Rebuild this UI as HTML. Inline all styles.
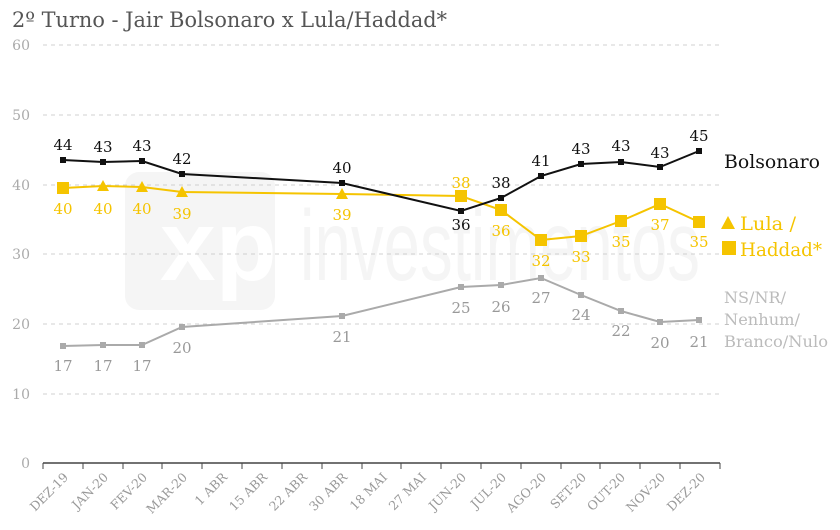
<!DOCTYPE html>
<html><head><meta charset="utf-8"><style>
html,body{margin:0;padding:0;background:#fff;}
svg{display:block;font-family:"DejaVu Serif","Liberation Serif",serif;}
</style></head><body>
<svg width="840" height="530" viewBox="0 0 840 530" xmlns="http://www.w3.org/2000/svg">
<rect width="840" height="530" fill="#fff"/>
<!-- watermark -->
<rect x="125" y="172" width="150" height="138" rx="14" fill="#f5f5f5"/>
<text x="160" y="280" font-family="Liberation Sans,sans-serif" font-size="100" font-weight="bold" fill="#fff">xp</text>
<text x="300" y="280" font-family="Liberation Sans,sans-serif" font-size="100" fill="#f5f5f5" textLength="400" lengthAdjust="spacingAndGlyphs">investimentos</text>
<text x="12" y="27" font-size="21" fill="#555" textLength="435" lengthAdjust="spacingAndGlyphs">2º Turno - Jair Bolsonaro x Lula/Haddad*</text>
<g stroke="#d0d0d0" stroke-dasharray="4,4" stroke-width="1">
<line x1="43" x2="720" y1="45" y2="45"/><line x1="43" x2="720" y1="115" y2="115"/>
<line x1="43" x2="720" y1="185" y2="185"/><line x1="43" x2="720" y1="254" y2="254"/>
<line x1="43" x2="720" y1="324" y2="324"/><line x1="43" x2="720" y1="394" y2="394"/>
</g>
<g font-size="14" fill="#aaa" text-anchor="end">
<text x="30" y="50">60</text><text x="30" y="120">50</text><text x="30" y="190">40</text>
<text x="30" y="259">30</text><text x="30" y="329">20</text><text x="30" y="399">10</text><text x="30" y="468">0</text>
</g>
<line x1="43" x2="720" y1="463" y2="463" stroke="#444" stroke-width="1.5"/>
<g stroke="#444" stroke-width="1">
<line x1="43" x2="43" y1="463" y2="469"/><line x1="83" x2="83" y1="463" y2="469"/><line x1="123" x2="123" y1="463" y2="469"/><line x1="162" x2="162" y1="463" y2="469"/><line x1="202" x2="202" y1="463" y2="469"/><line x1="242" x2="242" y1="463" y2="469"/><line x1="282" x2="282" y1="463" y2="469"/><line x1="322" x2="322" y1="463" y2="469"/><line x1="362" x2="362" y1="463" y2="469"/><line x1="401" x2="401" y1="463" y2="469"/><line x1="441" x2="441" y1="463" y2="469"/><line x1="481" x2="481" y1="463" y2="469"/><line x1="521" x2="521" y1="463" y2="469"/><line x1="561" x2="561" y1="463" y2="469"/><line x1="600" x2="600" y1="463" y2="469"/><line x1="640" x2="640" y1="463" y2="469"/><line x1="680" x2="680" y1="463" y2="469"/><line x1="720" x2="720" y1="463" y2="469"/>
</g>
<g font-size="12.5" fill="#999" text-anchor="end">
<text transform="translate(69,478) rotate(-45)">DEZ-19</text>
<text transform="translate(109,478) rotate(-45)">JAN-20</text>
<text transform="translate(148,478) rotate(-45)">FEV-20</text>
<text transform="translate(188,478) rotate(-45)">MAR-20</text>
<text transform="translate(228,478) rotate(-45)">1 ABR</text>
<text transform="translate(268,478) rotate(-45)">15 ABR</text>
<text transform="translate(308,478) rotate(-45)">22 ABR</text>
<text transform="translate(348,478) rotate(-45)">30 ABR</text>
<text transform="translate(388,478) rotate(-45)">18 MAI</text>
<text transform="translate(427,478) rotate(-45)">27 MAI</text>
<text transform="translate(467,478) rotate(-45)">JUN-20</text>
<text transform="translate(507,478) rotate(-45)">JUL-20</text>
<text transform="translate(547,478) rotate(-45)">AGO-20</text>
<text transform="translate(587,478) rotate(-45)">SET-20</text>
<text transform="translate(626,478) rotate(-45)">OUT-20</text>
<text transform="translate(666,478) rotate(-45)">NOV-20</text>
<text transform="translate(706,478) rotate(-45)">DEZ-20</text>
</g>
<!-- NS -->
<polyline fill="none" stroke="#aaa" stroke-width="2" points="63,346 103,345 142,345 182,327 342,316 461,287 501,285 541,278 581,295 621,311 660,322 699,320"/>
<g fill="#aaa"><rect x="60" y="343" width="6" height="6"/><rect x="100" y="342" width="6" height="6"/><rect x="139" y="342" width="6" height="6"/><rect x="179" y="324" width="6" height="6"/><rect x="339" y="313" width="6" height="6"/><rect x="458" y="284" width="6" height="6"/><rect x="498" y="282" width="6" height="6"/><rect x="538" y="275" width="6" height="6"/><rect x="578" y="292" width="6" height="6"/><rect x="618" y="308" width="6" height="6"/><rect x="657" y="319" width="6" height="6"/><rect x="696" y="317" width="6" height="6"/></g>
<g font-size="15" fill="#999" text-anchor="middle">
<text x="63" y="371">17</text><text x="103" y="371">17</text><text x="142" y="371">17</text><text x="182" y="353">20</text><text x="342" y="342">21</text><text x="461" y="313">25</text><text x="501" y="312">26</text><text x="541" y="303">27</text><text x="581" y="320">24</text><text x="621" y="336">22</text><text x="660" y="348">20</text><text x="699" y="347">21</text>
</g>
<!-- Lula -->
<polyline fill="none" stroke="#f5c400" stroke-width="2" points="63,188 103,186 142,187 182,192 342,194 461,196 501,210 541,240 581,236 621,221 660,204 699,222"/>
<g fill="#f5c400">
<rect x="57" y="182" width="12" height="12"/>
<polygon points="103,180 109,191 97,191"/><polygon points="142,181 148,192 136,192"/><polygon points="182,186 188,197 176,197"/><polygon points="342,188 348,199 336,199"/>
<rect x="455" y="190" width="12" height="12"/><rect x="495" y="204" width="12" height="12"/><rect x="535" y="234" width="12" height="12"/><rect x="575" y="230" width="12" height="12"/><rect x="615" y="215" width="12" height="12"/><rect x="654" y="198" width="12" height="12"/><rect x="693" y="216" width="12" height="12"/>
</g>
<g font-size="15" fill="#f5c400" text-anchor="middle">
<text x="63" y="214">40</text><text x="103" y="214">40</text><text x="142" y="214">40</text><text x="182" y="219">39</text><text x="342" y="220">39</text><text x="461" y="188">38</text><text x="501" y="236">36</text><text x="541" y="266">32</text><text x="581" y="262">33</text><text x="621" y="247">35</text><text x="660" y="230">37</text><text x="699" y="247">35</text>
</g>
<!-- Bolsonaro -->
<polyline fill="none" stroke="#111" stroke-width="2" points="63,160 103,162 142,161 182,174 342,183 461,211 501,198 541,176 581,164 621,162 660,167 699,151"/>
<g fill="#111"><rect x="60" y="157" width="6" height="6"/><rect x="100" y="159" width="6" height="6"/><rect x="139" y="158" width="6" height="6"/><rect x="179" y="171" width="6" height="6"/><rect x="339" y="180" width="6" height="6"/><rect x="458" y="208" width="6" height="6"/><rect x="498" y="195" width="6" height="6"/><rect x="538" y="173" width="6" height="6"/><rect x="578" y="161" width="6" height="6"/><rect x="618" y="159" width="6" height="6"/><rect x="657" y="164" width="6" height="6"/><rect x="696" y="148" width="6" height="6"/></g>
<g font-size="15" fill="#111" text-anchor="middle">
<text x="63" y="150">44</text><text x="103" y="152">43</text><text x="142" y="151">43</text><text x="182" y="164">42</text><text x="342" y="173">40</text><text x="461" y="230">36</text><text x="501" y="188">38</text><text x="541" y="166">41</text><text x="581" y="154">43</text><text x="621" y="151">43</text><text x="660" y="158">43</text><text x="699" y="141">45</text>
</g>
<!-- legend -->
<text x="724" y="168" font-size="18.5" fill="#111" textLength="96" lengthAdjust="spacingAndGlyphs">Bolsonaro</text>
<polygon points="721,229 728,216 735,229" fill="#f5c400"/>
<text x="740" y="230" font-size="19" fill="#f5c400" textLength="56" lengthAdjust="spacingAndGlyphs">Lula /</text>
<rect x="722" y="241" width="14" height="14" fill="#f5c400"/>
<text x="740" y="256" font-size="19" fill="#f5c400" textLength="82" lengthAdjust="spacingAndGlyphs">Haddad*</text>
<g font-size="16" fill="#bbb"><text x="724" y="303" textLength="62" lengthAdjust="spacingAndGlyphs">NS/NR/</text><text x="724" y="325" textLength="76" lengthAdjust="spacingAndGlyphs">Nenhum/</text><text x="724" y="347" textLength="104" lengthAdjust="spacingAndGlyphs">Branco/Nulo</text></g>
</svg>
</body></html>
